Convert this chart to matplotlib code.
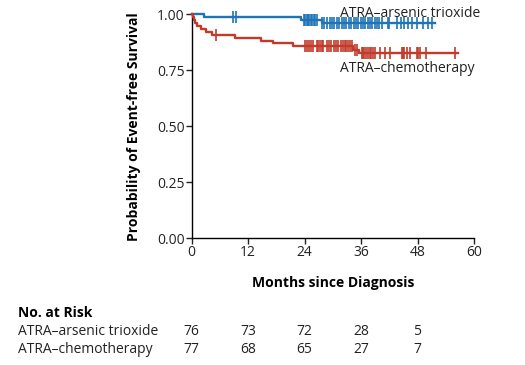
import matplotlib
matplotlib.use("Agg")
import matplotlib.pyplot as plt
import numpy as np

plt.rcParams['font.family'] = ['Open Sans', 'DejaVu Sans']

# Kaplan-Meier step data
ato_times = [0, 2.7, 23.2, 27.6]
ato_surv = [1.0, 0.987, 0.974, 0.960]
ato_end = 51.7
ato_censor = [8.8, 9.5,
              23.8, 24.1, 24.4, 24.7, 25.0, 25.3, 25.6, 25.9, 26.2, 26.6,
              27.8, 28.2, 28.7, 29.3, 29.8, 30.3, 30.9, 31.4, 31.9, 32.4,
              32.9, 33.4, 33.9, 34.4, 34.9, 35.4, 35.9, 36.4, 36.9, 37.4,
              37.9, 38.4, 38.9, 39.4, 39.9, 40.4, 41.7, 41.9,
              43.6, 44.4, 45.2, 46.0, 46.8, 47.8, 49.2, 50.3, 51.0]

chemo_times = [0, 0.2, 0.4, 0.7, 1.2, 2.0, 3.0, 4.3, 9.2, 14.8, 17.3, 21.5, 34.3, 35.5]
chemo_surv = [1.0, 0.987, 0.974, 0.961, 0.948, 0.935, 0.922, 0.909, 0.896,
              0.883, 0.870, 0.857, 0.842, 0.827]
chemo_end = 56.7
chemo_censor = [5.1,
                24.1, 24.5, 24.9, 25.3, 25.8, 26.6, 26.9, 27.2, 27.6, 28.0,
                28.7, 29.2, 29.7, 30.2, 30.7, 31.2, 31.7, 32.2, 32.6, 32.9,
                33.3, 33.7, 34.1, 34.7, 35.1,
                36.1, 36.4, 36.7, 37.0, 37.4, 37.8, 38.2, 38.6, 39.0,
                40.0, 41.1, 42.1, 44.6, 44.9, 45.2, 45.7, 46.4,
                47.8, 48.2, 48.5, 49.9, 56.0]

xticks = [0, 12, 24, 36, 48, 60]
yticks = [0.0, 0.25, 0.5, 0.75, 1.0]
ytick_labels = ['0.00', '0.25', '0.50', '0.75', '1.00']
groups = ['ATRA\u2013arsenic trioxide', 'ATRA\u2013chemotherapy']
risk_times = [0, 12, 24, 36, 48]
risk_ato = [76, 73, 72, 28, 5]
risk_chemo = [77, 68, 65, 27, 7]

blue = '#1f73b7'
red = '#c23b2a'

fig = plt.figure(figsize=(5.25, 3.65), dpi=100)
ax = fig.add_axes([191.7 / 525, 1 - 238.3 / 365, (474 - 191.7) / 525, (238.3 - 14.3) / 365])


def surv_at(times, surv, t):
    idx = np.searchsorted(times, t, side='right') - 1
    return np.array(surv)[idx]


for times, surv, end, cens, col in [
        (ato_times, ato_surv, ato_end, ato_censor, blue),
        (chemo_times, chemo_surv, chemo_end, chemo_censor, red)]:
    xs = list(times) + [end]
    ys = list(surv) + [surv[-1]]
    ax.step(xs, ys, where='post', color=col, lw=1.7, clip_on=False, zorder=3)
    ax.plot(cens, surv_at(times, surv, np.array(cens)), ls='none', marker='|',
            ms=8, mew=1.2, color=col, clip_on=False, zorder=3)

ax.set_xlim(0, 60)
ax.set_ylim(0, 1.0)
ax.set_xticks(xticks)
ax.set_xticklabels([str(x) for x in xticks])
ax.set_yticks(yticks)
ax.set_yticklabels(ytick_labels)
for s in ['top', 'right']:
    ax.spines[s].set_visible(False)
for s in ['left', 'bottom']:
    ax.spines[s].set_linewidth(1.0)
ax.tick_params(axis='both', direction='out', length=4, width=1.0,
               labelsize=10, colors='#222222', pad=1)
ax.set_ylabel('Probability of Event-free Survival', fontsize=10, fontweight='bold')
ax.yaxis.set_label_coords(-0.18, 0.5)
ax.set_xlabel('Months since Diagnosis', fontsize=10, fontweight='bold', labelpad=11)

ax.text(31.5, 1.005, groups[0], fontsize=10, color='#222222', va='center', ha='left',
        clip_on=False)
ax.text(31.5, 0.757, groups[1], fontsize=10, color='#222222', va='center', ha='left',
        clip_on=False)

# Risk table
trans = matplotlib.transforms.blended_transform_factory(ax.transData, fig.transFigure)
fig.text(18 / 525, 1 - 313 / 365, 'No. at Risk', fontsize=10, fontweight='bold',
         va='center', ha='left')
for row, (name, vals) in enumerate(zip(groups, [risk_ato, risk_chemo])):
    yy = 1 - (331.7 + row * 17.6) / 365
    fig.text(18 / 525, yy, name, fontsize=10, va='center', ha='left', color='#222222')
    for t, v in zip(risk_times, vals):
        ax.text(t, yy, str(v), transform=trans, fontsize=10, va='center', ha='center',
                color='#222222', clip_on=False)

fig.savefig('out.png', dpi=100)
